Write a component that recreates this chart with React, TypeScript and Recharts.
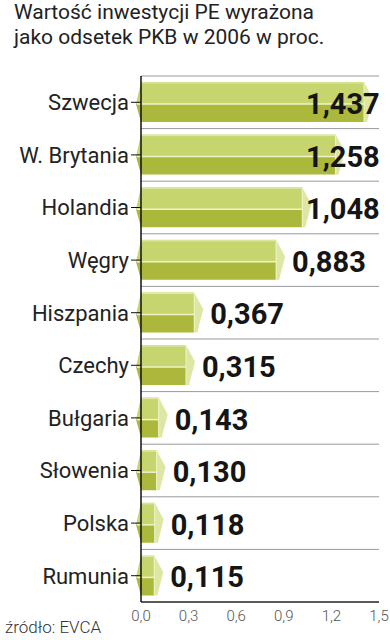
import React from "react";
import { BarChart, Bar, XAxis, YAxis, CartesianGrid, LabelList } from "recharts";

const countries = ["Szwecja", "W. Brytania", "Holandia", "Węgry", "Hiszpania", "Czechy", "Bułgaria", "Słowenia", "Polska", "Rumunia"];
const values = [1.437, 1.258, 1.048, 0.883, 0.367, 0.315, 0.143, 0.13, 0.118, 0.115];
const xTicks = [0, 0.3, 0.6, 0.9, 1.2, 1.5];

const data = countries.map((name, i) => ({ name, value: values[i] }));

const fmt = (v: number, d: number) => v.toFixed(d).replace(".", ",");

// hexagonal prism bar
function PrismBar(props: any) {
  const { x, y, width, height } = props;
  const end = x + width;
  const x0 = x - 5;
  const x1 = Math.max(end - 5, x + 6);
  const top = y;
  const bot = y + height;
  const mid = y + height * 0.55;
  return (
    <g>
      <polygon points={`${x0},${mid} ${x},${top} ${x1},${top} ${x1},${mid}`} fill="#c6d56d" />
      <polygon points={`${x0},${mid} ${x1},${mid} ${x1},${bot} ${x},${bot}`} fill="#abb83c" />
      <polygon points={`${x1},${top} ${x1 + 9},${top + height * 0.42} ${x1 + 3},${bot} ${x1},${bot}`} fill="#dde7a3" />
      <line x1={x0 + 1} y1={mid} x2={x1} y2={mid} stroke="#eef3c8" strokeWidth={1.5} />
      <line x1={x1} y1={top} x2={x1} y2={bot} stroke="#eef3c8" strokeWidth={1} />
      <line x1={x + 1} y1={top + 1} x2={x1} y2={top + 1} stroke="#e4ecb0" strokeWidth={1} />
    </g>
  );
}

function ValueLabel(props: any) {
  const { x, y, width, height, value } = props;
  const tip = x + width + 4;
  const lx = Math.min(tip + 7, 306);
  return (
    <text x={lx} y={y + height / 2 + 2} dominantBaseline="central" fontFamily="Roboto" fontWeight={700} fontSize={29} fill="#151515">
      {fmt(value, 3)}
    </text>
  );
}

export default function App() {
  return (
    <div style={{ position: "absolute", left: 0, top: 0, width: 390, height: 640, background: "#fff", fontFamily: "Roboto" }}>
      <div style={{ position: "absolute", left: 14, top: 0, fontSize: 21, lineHeight: "25px", color: "#222" }}>
        Wartość inwestycji PE wyrażona
        <br />
        jako odsetek PKB w 2006 w proc.
      </div>
      <div style={{ position: "absolute", left: 5, top: 617, fontSize: 17, fontWeight: 300, color: "#333" }}>źródło: EVCA</div>
      <BarChart
        width={390}
        height={640}
        data={data}
        layout="vertical"
        margin={{ top: 76, right: 11, bottom: 0, left: 0 }}
        style={{ position: "absolute", left: 0, top: 0 }}
      >
        <CartesianGrid
          vertical={false}
          stroke="#9a9a9a"
          horizontalCoordinatesGenerator={({ offset }: any) =>
            countries.map((_, i) => offset.top + (i * offset.height) / countries.length)
          }
        />
        <XAxis
          type="number"
          domain={[0, 1.5]}
          ticks={xTicks}
          tickFormatter={(v: number) => fmt(v, 1)}
          tickLine={false}
          axisLine={{ stroke: "#222", strokeWidth: 1.5 }}
          height={38}
          tick={{ fontSize: 15, fill: "#555", fontWeight: 300 }}
        />
        <YAxis
          type="category"
          dataKey="name"
          width={141}
          tickSize={10}
          axisLine={{ stroke: "#111", strokeWidth: 1.5 }}
          tickLine={{ stroke: "#111" }}
          tick={{ fontSize: 22, fill: "#222" }}
        />
        <Bar dataKey="value" barSize={40} shape={<PrismBar />} isAnimationActive={false}>
          <LabelList dataKey="value" content={<ValueLabel />} />
        </Bar>
      </BarChart>
    </div>
  );
}
